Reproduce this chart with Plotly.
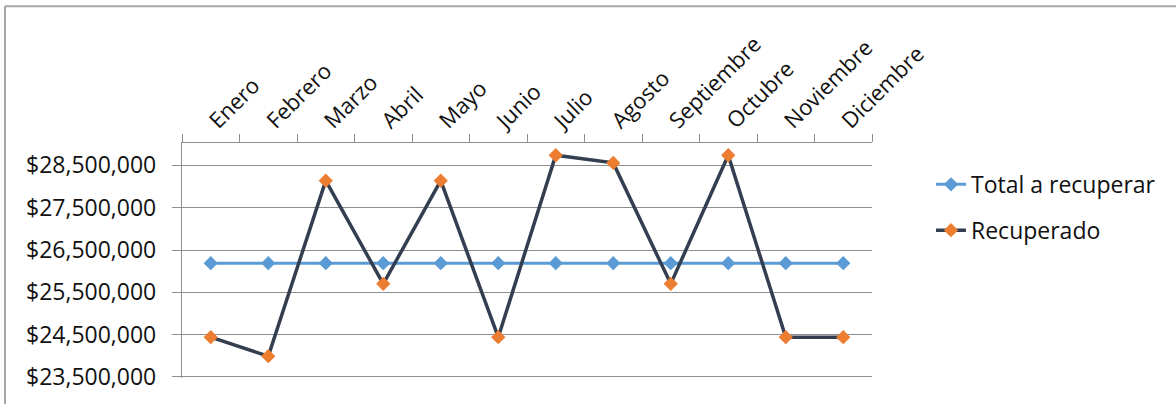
import plotly.graph_objects as go

meses = ["Enero", "Febrero", "Marzo", "Abril", "Mayo", "Junio", "Julio",
         "Agosto", "Septiembre", "Octubre", "Noviembre", "Diciembre"]
total_a_recuperar = [26190000] * 12
recuperado = [24440000, 23990000, 28140000, 25700000, 28140000, 24440000,
              28740000, 28560000, 25700000, 28740000, 24440000, 24440000]

W, H = 1176, 404
L, R, T, B = 182, 304, 143, 24
pw, ph = W - L - R, H - T - B

FONT = "Open Sans"
TXT = "#111111"
GRID = "#8e8e8e"

fig = go.Figure()
fig.add_trace(go.Scatter(
    x=meses, y=total_a_recuperar, name="Total a recuperar", mode="lines+markers",
    line=dict(color="#5B9BD5", width=3),
    marker=dict(symbol="diamond", size=11, color="#5B9BD5"),
    legendgroup="a"))
fig.add_trace(go.Scatter(
    x=meses, y=recuperado, name="Recuperado", mode="lines+markers",
    line=dict(color="#333F50", width=3.5),
    marker=dict(symbol="diamond", size=11, color="#ED7D31"),
    legendgroup="b"))

def px_x(p):
    return (p - L) / pw

def px_y(p):
    return (H - B - p) / ph

fig.update_layout(
    width=W, height=H, autosize=False,
    margin=dict(l=L, r=R, t=T, b=B, pad=0),
    paper_bgcolor="white", plot_bgcolor="white",
    font=dict(family=FONT, size=22, color=TXT),
    showlegend=True,
    legend=dict(x=px_x(931), y=px_y(163), xanchor="left", yanchor="top",
                font=dict(family=FONT, size=23, color=TXT),
                tracegroupgap=13, bgcolor="rgba(0,0,0,0)", borderwidth=0),
    shapes=[
        dict(type="line", xref="paper", yref="paper",
             x0=px_x(5), x1=px_x(W + 5), y0=px_y(5), y1=px_y(5),
             line=dict(color="#a6a6a6", width=2)),
        dict(type="line", xref="paper", yref="paper",
             x0=px_x(5), x1=px_x(5), y0=px_y(5), y1=px_y(H + 5),
             line=dict(color="#a6a6a6", width=2)),
    ],
)
fig.update_xaxes(
    type="category", side="top", range=[-0.5, 11.5], autorange=False,
    showline=True, linecolor=GRID, linewidth=1.3,
    ticks="outside", tickson="boundaries", ticklen=8, tickcolor=GRID, tickwidth=1.3,
    tickangle=-45, showgrid=False, zeroline=False,
    tickfont=dict(family=FONT, size=22, color=TXT))
fig.update_yaxes(
    range=[23475000, 29030000], autorange=False, tick0=23500000, dtick=1000000,
    tickformat=",.0f", tickprefix="$",
    showline=True, linecolor=GRID, linewidth=1.3,
    ticks="outside", ticklen=9, tickcolor=GRID, tickwidth=1.3,
    showgrid=True, gridcolor=GRID, gridwidth=1.3, zeroline=False,
    ticklabelstandoff=11,
    tickfont=dict(family=FONT, size=23, color=TXT))

fig.write_html("out.html",
               config={"displayModeBar": False},
               post_script="document.body.style.margin='0';document.body.style.overflow='hidden';")
